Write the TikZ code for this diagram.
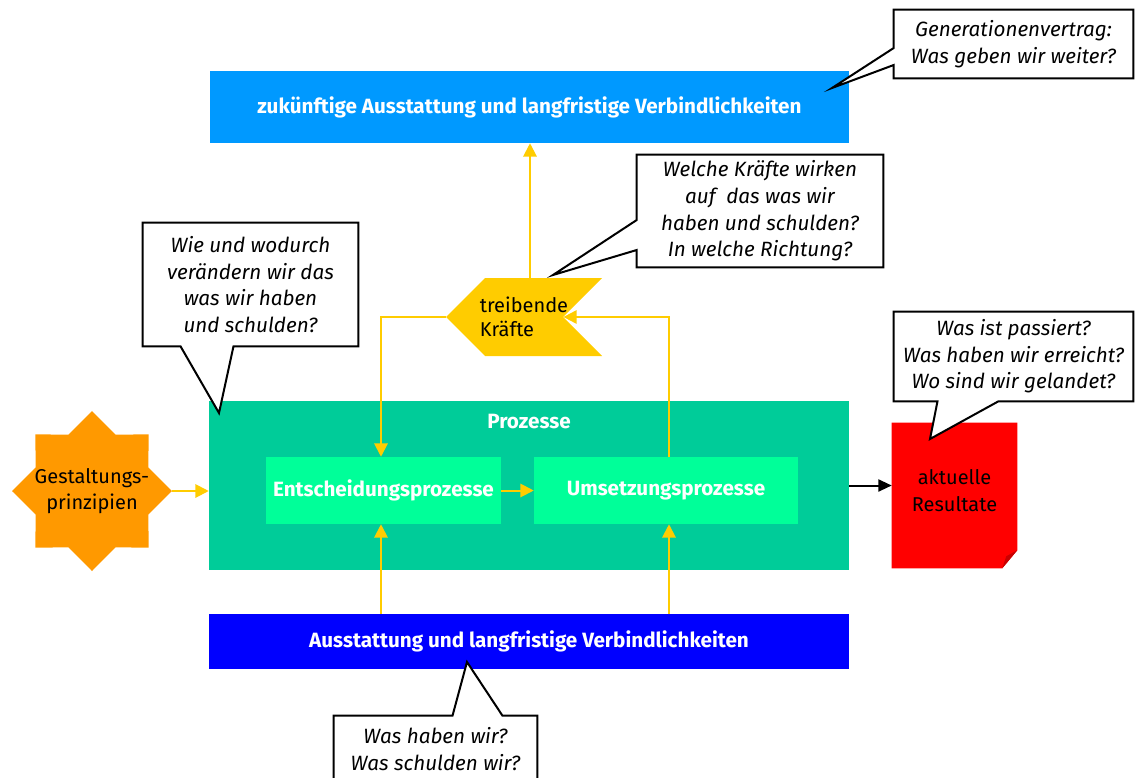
\documentclass[tikz,border=0pt]{standalone}
\usepackage{fontspec}
\setmainfont{Fira Sans}
\usetikzlibrary{arrows.meta, calc, shapes.geometric, shapes.symbols}

\definecolor{hellblau}{RGB}{0,153,255}
\definecolor{dunkelblau}{RGB}{0,0,255}
\definecolor{prozgruen}{RGB}{0,204,153}
\definecolor{minze}{RGB}{0,255,153}
\definecolor{gelb}{RGB}{255,204,0}
\definecolor{gestaltorange}{RGB}{255,153,0}
\definecolor{rot}{RGB}{255,0,0}
\definecolor{dunkelrot}{RGB}{200,0,0}

\begin{document}
\begin{tikzpicture}[
x=0.75pt, y=-0.75pt,
font=\fontsize{15}{20}\selectfont,
  kasten/.style = {rectangle, inner sep=0pt, text=white,
                   font=\fontsize{15.5}{20}\selectfont\bfseries},
   pfeil/.style = {draw=gelb, line width=1.5pt, -{Triangle[width=10pt,length=10pt]}},
schwpfeil/.style = {black, line width=1.5pt, -{Triangle[width=9pt,length=10pt]}},
   blase/.style = {inner sep=0pt, align=center,
                   font=\fontsize{15.5}{20}\selectfont\itshape},
  sprech/.style = {draw=black, fill=white, line width=1.5pt, line join=miter}
                    ]
\useasboundingbox (0,0) rectangle (1136,778);

%nodes
\node[kasten, fill=hellblau, minimum width=479.25pt, minimum height=54pt] (zukunft) at (529.5,107)
    {zukünftige Ausstattung und langfristige Verbindlichkeiten};
\node[kasten, fill=prozgruen, minimum width=480pt, minimum height=126.75pt] (prozesse) at (529,485.5) {};
\node[kasten] (prozlabel) at (529,422) {Prozesse};
\node[kasten, fill=minze, minimum width=176.25pt, minimum height=50.25pt] (entsch) at (383.5,490.5)
    {Entscheidungsprozesse};
\node[kasten, fill=minze, minimum width=198pt, minimum height=50.25pt] (umsetz) at (666,490.5)
    {Umsetzungsprozesse};
\node[kasten, fill=dunkelblau, minimum width=480pt, minimum height=41.25pt] (ausst) at (529,641.5)
    {Ausstattung und langfristige Verbindlichkeiten};

\node[signal, signal to=west, signal from=east, fill=gelb, inner sep=0pt,
      minimum width=117pt, minimum height=58.5pt,
      label={[align=left]center:treibende\\[-2pt]Kräfte}] (kraefte) at (524,317) {};
\node[star, star points=8, star point ratio=1.31, fill=gestaltorange, inner sep=0pt,
      minimum size=120pt, label={[align=center]center:Gestaltungs-\\prinzipien}] (gestalt) at (92,491) {};

\node[inner sep=0pt, minimum width=93.75pt, minimum height=108.75pt] (result) at (954.5,495.5) {};
\fill[rot] (result.north west) -- (result.north east) -- ($(result.south east)+(0,-18)$)
    -- ($(result.south east)+(-15,0)$) -- (result.south west) -- cycle;
\fill[dunkelrot] ($(result.south east)+(0,-18)$) -- ($(result.south east)+(-15,0)$)
    -- ($(result.south east)+(-11,-12)$) -- cycle;
\node[align=center] (result-text) at ($(result)+(0,-5)$) {aktuelle\\Resultate};

% edges
\coordinate (kr-oben) at ($(kraefte.north)+(6,0)$);
\coordinate (ent-oben) at ($(entsch.north)+(-2.5,0)$);
\coordinate (ent-unten) at ($(entsch.south)+(-2.5,0)$);
\coordinate (ums-oben) at ($(umsetz.north)+(3,0)$);
\coordinate (ums-unten) at ($(umsetz.south)+(3,0)$);
\draw[pfeil] (kr-oben) -- (kr-oben |- zukunft.south);
\draw[pfeil] (kraefte.west) -| (ent-oben);
\draw[pfeil] (ums-oben) |- (kraefte.east);
\draw[pfeil] (entsch.east) -- (umsetz.west);
\draw[pfeil] (ent-unten |- ausst.north) -- (ent-unten);
\draw[pfeil] (ums-unten |- ausst.north) -- (ums-unten);
\draw[pfeil] (gestalt.east) -- (gestalt.east -| prozesse.west);
\draw[schwpfeil] (prozesse.east) -- (prozesse.east -| result.west);

% sprechblasen
\coordinate (gv-spitze) at (832,88);
\coordinate (wk-spitze) at (553,275);
\coordinate (wie-spitze) at (219,413);
\coordinate (wp-spitze) at (930,439);
\coordinate (wh-spitze) at (467,662);

\node[blase, minimum width=179.25pt, minimum height=51pt] (gv) at (1013.5,44) {};
\draw[sprech] (gv.north west) -| (gv.south east) -| ($(gv.west)+(0,21)$) -- (gv-spitze)
    -- ($(gv.west)+(0,4)$) -- cycle
    node[blase] (gv-text) at (gv) {Generationenvertrag:\\Was geben wir weiter?};

\node[blase, minimum width=184.5pt, minimum height=84pt] (wk) at (760,211) {};
\draw[sprech] (wk.north west) -| (wk.south east) -| ($(wk.west)+(0,39)$) -- (wk-spitze)
    -- ($(wk.west)+(0,9)$) -- cycle
    node[blase] (wk-text) at (wk) {Welche Kräfte wirken\\auf\ \ das was wir\\haben und schulden?\\In welche Richtung?};

\node[blase, minimum width=161.25pt, minimum height=92.25pt] (wie) at (250.5,284.5) {};
\draw[sprech] (wie.north west) -| (wie.south east) -- ($(wie.south)+(-17,0)$) -- (wie-spitze)
    -- ($(wie.south)+(-70,0)$) -- (wie.south west) -- cycle
    node[blase] (wie-text) at (wie) {Wie und wodurch\\verändern wir das\\was wir haben\\und schulden?};

\node[blase, minimum width=179.25pt, minimum height=66.75pt] (wp) at (1013.5,356.5) {};
\draw[sprech] (wp.north west) -| (wp.south east) -- ($(wp.south)+(-15,0)$) -- (wp-spitze)
    -- ($(wp.south)+(-76,0)$) -- (wp.south west) -- cycle
    node[blase] (wp-text) at (wp) {Was ist passiert?\\Was haben wir erreicht?\\Wo sind wir gelandet?};

\node[blase, minimum width=152.25pt, minimum height=60pt] (wh) at (435.5,756) {};
\draw[sprech] (wh.south west) |- ($(wh.north)+(17,0)$) -- (wh-spitze)
    -- ($(wh.north)+(67,0)$) -| (wh.south east) -- cycle;
\node[blase] (wh-text) at (435.5,749) {Was haben wir?\\Was schulden wir?};
\end{tikzpicture}
\end{document}
